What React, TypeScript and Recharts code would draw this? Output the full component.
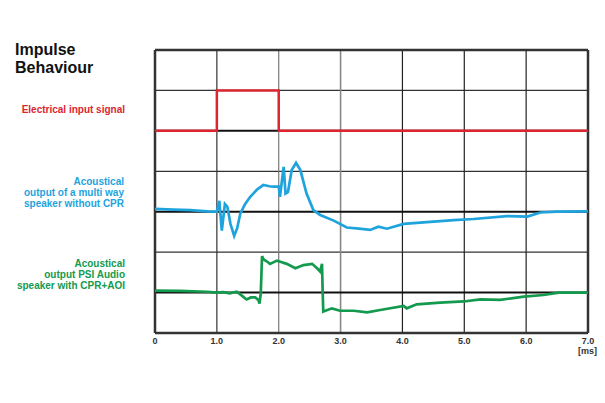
import React from "react";
import { LineChart, Line, XAxis, YAxis, ReferenceLine } from "recharts";

const xTicks = [0, 1, 2, 3, 4, 5, 6, 7];
const xTickLabels = ["0", "1.0", "2.0", "3.0", "4.0", "5.0", "6.0", "7.0"];

const electricalInput = [
  { t: 0, v: 5 }, { t: 1.0, v: 5 }, { t: 1.0, v: 6 }, { t: 2.0, v: 6 }, { t: 2.0, v: 5 }, { t: 7.0, v: 5 },
];

const multiWay = [
  { t: 0, v: 3.07 }, { t: 0.3, v: 3.05 }, { t: 0.57, v: 3.04 }, { t: 0.85, v: 3.01 }, { t: 1.0, v: 3.0 },
  { t: 1.04, v: 3.27 }, { t: 1.08, v: 2.53 }, { t: 1.13, v: 3.19 }, { t: 1.17, v: 3.12 }, { t: 1.22, v: 2.7 },
  { t: 1.28, v: 2.4 }, { t: 1.33, v: 2.6 }, { t: 1.38, v: 2.96 }, { t: 1.46, v: 3.2 }, { t: 1.54, v: 3.37 },
  { t: 1.65, v: 3.55 }, { t: 1.75, v: 3.66 }, { t: 1.85, v: 3.63 }, { t: 1.91, v: 3.62 }, { t: 2.0, v: 3.62 },
  { t: 2.02, v: 3.37 }, { t: 2.08, v: 4.11 }, { t: 2.11, v: 3.45 }, { t: 2.15, v: 3.49 }, { t: 2.21, v: 4.03 },
  { t: 2.28, v: 4.21 }, { t: 2.35, v: 4.03 }, { t: 2.45, v: 3.45 }, { t: 2.56, v: 3.04 }, { t: 2.67, v: 2.92 },
  { t: 2.89, v: 2.78 }, { t: 3.1, v: 2.61 }, { t: 3.3, v: 2.58 }, { t: 3.48, v: 2.55 }, { t: 3.61, v: 2.63 },
  { t: 3.75, v: 2.58 }, { t: 4.02, v: 2.7 }, { t: 4.45, v: 2.75 }, { t: 4.83, v: 2.79 }, { t: 5.15, v: 2.82 },
  { t: 5.69, v: 2.89 }, { t: 6.02, v: 2.88 }, { t: 6.23, v: 2.98 }, { t: 6.5, v: 3.0 }, { t: 7.0, v: 3.01 },
];

const psiAudio = [
  { t: 0, v: 1.05 }, { t: 0.4, v: 1.04 }, { t: 0.84, v: 1.02 }, { t: 1.0, v: 1.0 }, { t: 1.1, v: 1.01 },
  { t: 1.21, v: 0.98 }, { t: 1.32, v: 1.02 }, { t: 1.4, v: 0.93 }, { t: 1.48, v: 0.83 }, { t: 1.55, v: 0.88 },
  { t: 1.62, v: 0.88 }, { t: 1.67, v: 0.82 }, { t: 1.69, v: 0.73 }, { t: 1.71, v: 0.98 }, { t: 1.73, v: 1.9 },
  { t: 1.76, v: 1.81 }, { t: 1.8, v: 1.78 }, { t: 1.86, v: 1.71 }, { t: 1.97, v: 1.79 }, { t: 2.05, v: 1.75 },
  { t: 2.13, v: 1.71 }, { t: 2.27, v: 1.6 }, { t: 2.4, v: 1.68 }, { t: 2.54, v: 1.71 }, { t: 2.62, v: 1.6 },
  { t: 2.67, v: 1.52 }, { t: 2.7, v: 1.71 }, { t: 2.71, v: 1.06 }, { t: 2.72, v: 0.53 }, { t: 2.86, v: 0.61 },
  { t: 2.99, v: 0.55 }, { t: 3.21, v: 0.55 }, { t: 3.43, v: 0.51 }, { t: 3.64, v: 0.57 }, { t: 4.02, v: 0.67 },
  { t: 4.07, v: 0.61 }, { t: 4.23, v: 0.71 }, { t: 4.61, v: 0.75 }, { t: 4.99, v: 0.78 }, { t: 5.26, v: 0.83 },
  { t: 5.58, v: 0.82 }, { t: 5.96, v: 0.9 }, { t: 6.28, v: 0.94 }, { t: 6.53, v: 1.0 }, { t: 7.0, v: 1.0 },
];

const RED = "#dc2530";
const BLUE = "#1ea3dc";
const GREEN = "#139a4e";
const FONT = "'Liberation Sans', Arial, sans-serif";

const labelStyle: React.CSSProperties = {
  position: "absolute",
  fontFamily: FONT,
  fontWeight: "bold",
  fontSize: 10,
  lineHeight: "11px",
  textAlign: "right",
  whiteSpace: "nowrap",
};

export default function App() {
  return (
    <div style={{ position: "absolute", left: 0, top: 0, width: 605, height: 403, background: "#fff" }}>
      <LineChart
        width={605}
        height={403}
        margin={{ top: 50, right: 17, bottom: 40, left: 155 }}
      >
        <XAxis
          dataKey="t"
          type="number"
          domain={[0, 7]}
          ticks={xTicks}
          height={30}
          tickFormatter={(v: number) => xTickLabels[xTicks.indexOf(v)]}
          axisLine={false}
          tickLine={false}
          tickSize={3}
          tick={{ fontFamily: FONT, fontWeight: "bold", fontSize: 9, fill: "#333" }}
          allowDuplicatedCategory={false}
        />
        <YAxis type="number" domain={[0, 7]} hide />
        <ReferenceLine y={2} stroke="#333" strokeWidth={1.2} />
        <ReferenceLine y={4} stroke="#333" strokeWidth={1.2} />
        <ReferenceLine y={6} stroke="#333" strokeWidth={1.2} />
        <ReferenceLine x={1} stroke="#333" strokeWidth={1.2} />
        <ReferenceLine x={2} stroke="#777" strokeWidth={1.2} />
        <ReferenceLine x={3} stroke="#888" strokeWidth={1.6} />
        <ReferenceLine x={4} stroke="#222" strokeWidth={1.2} />
        <ReferenceLine x={5} stroke="#222" strokeWidth={1.2} />
        <ReferenceLine x={6} stroke="#222" strokeWidth={1.2} />
        <ReferenceLine y={5} stroke="#111" strokeWidth={2} />
        <ReferenceLine y={3} stroke="#111" strokeWidth={2} />
        <ReferenceLine y={1} stroke="#111" strokeWidth={2} />
        <ReferenceLine y={0} stroke="#333" strokeWidth={2.5} />
        <ReferenceLine y={7} stroke="#333" strokeWidth={2.5} />
        <ReferenceLine x={0} stroke="#333" strokeWidth={2.5} />
        <ReferenceLine x={7} stroke="#333" strokeWidth={2.5} />
        <Line data={electricalInput} dataKey="v" type="linear" stroke={RED} strokeWidth={2.5} dot={false} isAnimationActive={false} />
        <Line data={multiWay} dataKey="v" type="linear" stroke={BLUE} strokeWidth={2.7} dot={false} isAnimationActive={false} />
        <Line data={psiAudio} dataKey="v" type="linear" stroke={GREEN} strokeWidth={2.7} dot={false} isAnimationActive={false} />
      </LineChart>

      <div style={{ position: "absolute", left: 15, top: 41, fontFamily: FONT, fontWeight: "bold", fontSize: 16, lineHeight: "18px", color: "#111" }}>
        Impulse<br />Behaviour
      </div>
      <div style={{ ...labelStyle, right: 480, top: 104, color: RED }}>Electrical input signal</div>
      <div style={{ ...labelStyle, right: 481, top: 176, color: BLUE }}>
        Acoustical<br />output of a multi way<br />speaker without CPR
      </div>
      <div style={{ ...labelStyle, right: 480, top: 258, color: GREEN }}>
        Acoustical<br />output PSI Audio<br />speaker with CPR+AOI
      </div>
      <div style={{ position: "absolute", left: 578, top: 346, fontFamily: FONT, fontWeight: "bold", fontSize: 9, color: "#333" }}>[ms]</div>
    </div>
  );
}
